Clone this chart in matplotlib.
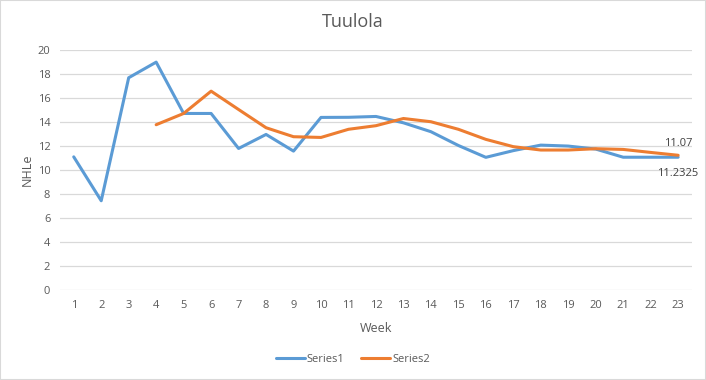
import numpy as np
from matplotlib import pyplot as plt

weeks = list(range(1, 24))
series1 = [11.1, 7.44, 17.7, 19.0, 14.72, 14.72, 11.8, 12.97, 11.58, 14.39, 14.4, 14.47,
           13.94, 13.2, 12.05, 11.06, 11.62, 12.08, 12.0, 11.75, 11.07, 11.07, 11.07]
# series2 starts at week 4
weeks2 = list(range(4, 24))
series2 = [13.78, 14.72, 16.58, 15.05, 13.53, 12.78, 12.72, 13.4, 13.7, 14.3, 14.03,
           13.4, 12.56, 11.95, 11.67, 11.67, 11.78, 11.72, 11.47, 11.2325]

blue = '#5B9BD5'
orange = '#ED7D31'
grey = '#595959'

plt.rcParams['font.family'] = ['Open Sans', 'DejaVu Sans']

fig = plt.figure(figsize=(7.06, 3.8), dpi=100)
ax = fig.add_axes([0.085, 0.237, 0.895, 0.631])

ax.plot(weeks, series1, color=blue, lw=2.2, label='Series1', solid_capstyle='round')
ax.plot(weeks2, series2, color=orange, lw=2.2, label='Series2', solid_capstyle='round')

ax.set_xlim(0.5, 23.5)
ax.set_ylim(0, 20)
ax.set_xticks(weeks)
ax.set_yticks(np.arange(0, 21, 2))
ax.yaxis.grid(True, color='#D9D9D9', lw=0.9)
ax.set_axisbelow(True)
for s in ax.spines.values():
    s.set_visible(False)
ax.tick_params(length=0, colors=grey, labelsize=8, pad=7)

ax.annotate(f'{series1[-1]:g}', (weeks[-1], series1[-1]), xytext=(0, 6),
            textcoords='offset points', ha='center', va='bottom', fontsize=8, color='#404040')
ax.annotate(f'{series2[-1]:g}', (weeks2[-1], series2[-1]), xytext=(0, -9),
            textcoords='offset points', ha='center', va='top', fontsize=8, color='#404040')

ax.set_xlabel('Week', color=grey, fontsize=9, labelpad=8)
ax.set_ylabel('NHLe', color=grey, fontsize=9, labelpad=3)
fig.suptitle('Tuulola', x=0.5, y=0.965, color=grey, fontsize=13)

fig.legend(loc='center', bbox_to_anchor=(0.5, 0.055), ncol=2, frameon=False,
           fontsize=8, labelcolor=grey, handlelength=2.6, columnspacing=1.5, handletextpad=0.2)

border = plt.Rectangle((0, 0), 1, 1, transform=fig.transFigure, fill=False,
                       edgecolor='#D9D9D9', lw=1.5)
fig.patches.append(border)

fig.savefig('out.png', dpi=100)
